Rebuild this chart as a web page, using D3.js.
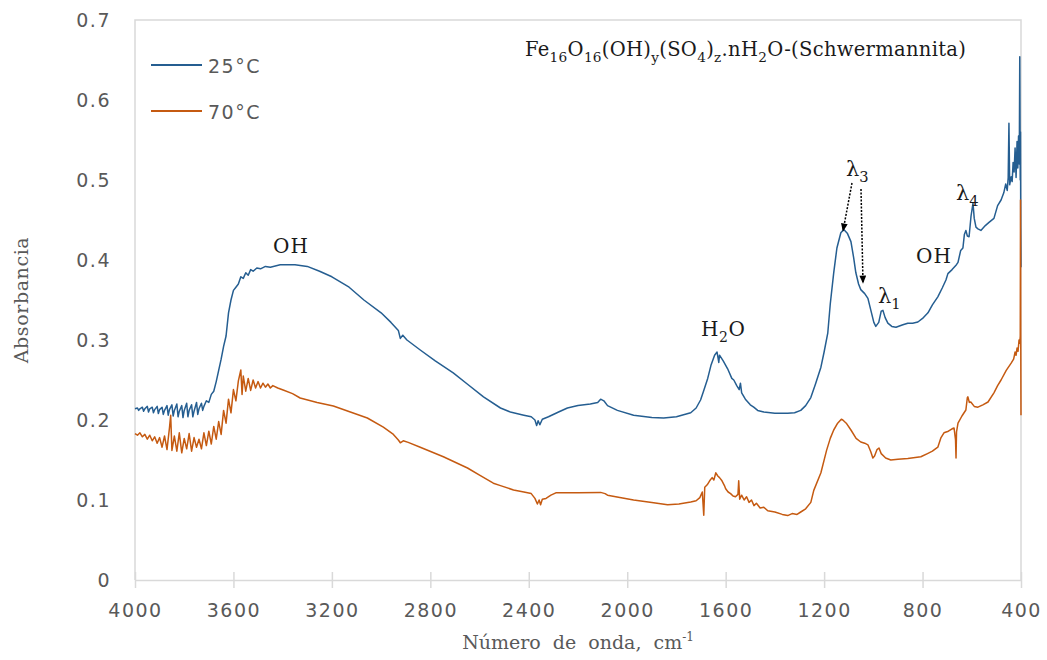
<!DOCTYPE html>
<html>
<head>
<meta charset="utf-8">
<script src="https://cdn.jsdelivr.net/npm/d3@7"></script>
<style>
  body { margin: 0; background: #fff; }
  svg { display: block; }
</style>
</head>
<body>
<svg id="chart" width="1047" height="660"></svg>
<script>
// FTIR spectra of schwermannite at 25 and 70 °C, [wavenumber, absorbance]
const spectrum25 = [
  [4000,.214],[3990,.215],[3985,.212],[3980,.214],[3970,.216],[3965,.211],[3960,.214],[3950,.217],
  [3945,.210],[3940,.214],[3930,.216],[3925,.209],[3920,.213],[3910,.217],[3905,.208],[3900,.213],
  [3890,.216],[3885,.207],[3880,.212],[3870,.218],[3865,.206],[3860,.213],[3850,.219],[3845,.205],
  [3840,.212],[3830,.220],[3825,.204],[3820,.211],[3810,.218],[3805,.203],[3800,.212],[3790,.221],
  [3785,.204],[3780,.212],[3770,.219],[3765,.204],[3760,.211],[3750,.222],[3745,.207],[3740,.214],
  [3730,.221],[3725,.212],[3720,.217],[3710,.224],[3700,.222],[3690,.232],[3680,.236],[3670,.248],
  [3660,.262],[3650,.276],[3640,.292],[3630,.305],[3620,.334],[3610,.350],[3600,.362],[3590,.366],
  [3580,.370],[3570,.379],[3560,.377],[3550,.384],[3540,.381],[3530,.388],[3520,.386],[3505,.390],
  [3490,.389],[3470,.392],[3450,.391],[3410,.394],[3350,.394],[3300,.392],[3250,.386],[3200,.379],
  [3130,.366],[3070,.350],[3000,.334],[2960,.322],[2930,.312],[2922,.302],[2912,.306],[2895,.300],
  [2841,.2875],[2780,.274],[2707,.259],[2650,.245],[2584,.229],[2515,.215],[2475,.210],[2420,.206],
  [2390,.204],[2375,.200],[2368,.193],[2362,.199],[2355,.194],[2345,.201],[2320,.204],[2279,.210],
  [2243,.215],[2200,.218],[2150,.220],[2120,.222],[2108,.226],[2095,.224],[2080,.218],[2040,.212],
  [1974,.206],[1900,.203],[1852,.2025],[1800,.204],[1742,.209],[1720,.215],[1702,.225],[1690,.236],
  [1673,.252],[1660,.268],[1645,.281],[1635,.285],[1628,.272],[1625,.281],[1610,.274],[1592,.264],
  [1575,.252],[1567,.250],[1555,.243],[1545,.238],[1540,.246],[1535,.234],[1520,.226],[1500,.219],
  [1486,.216],[1470,.212],[1445,.210],[1400,.2085],[1348,.2085],[1320,.209],[1295,.212],[1275,.218],
  [1254,.228],[1235,.245],[1213,.266],[1200,.285],[1185,.309],[1175,.345],[1161,.384],[1148,.415],
  [1132,.434],[1120,.438],[1105,.433],[1091,.423],[1080,.403],[1071,.384],[1060,.370],[1051,.363],
  [1035,.358],[1022,.352],[1010,.337],[998,.322],[990,.317],[978,.322],[968,.336],[961,.337],
  [952,.328],[941,.321],[925,.317],[908,.316],[880,.319],[860,.321],[840,.321],[819,.3225],
  [800,.327],[778,.334],[760,.344],[738,.354],[720,.365],[705,.375],[697,.383],[680,.388],
  [665,.393],[656,.397],[645,.412],[636,.415],[630,.432],[624,.437],[618,.430],[611,.429],
  [603,.455],[595,.471],[590,.452],[583,.441],[575,.439],[563,.437],[545,.443],[530,.447],
  [510,.452],[495,.468],[481,.475],[470,.484],[462,.495],[456,.487],[452,.503],[449,.571],
  [446,.494],[440,.504],[436,.498],[432,.522],[428,.510],[424,.540],[420,.503],[416,.548],
  [413,.515],[410,.555],[407,.520],[405,.654],[403,.500],[402,.560],[401,.440],[400,.391]
];

const spectrum70 = [
  [4000,.183],[3990,.181],[3980,.184],[3970,.179],[3960,.182],[3950,.176],[3940,.181],[3930,.174],
  [3920,.179],[3910,.171],[3900,.178],[3890,.166],[3880,.180],[3870,.163],[3860,.190],[3855,.206],
  [3850,.162],[3840,.180],[3830,.161],[3820,.184],[3810,.159],[3800,.177],[3790,.164],[3780,.183],
  [3770,.161],[3760,.178],[3750,.166],[3740,.176],[3730,.164],[3720,.184],[3710,.168],[3700,.186],
  [3690,.170],[3680,.192],[3670,.176],[3660,.198],[3650,.182],[3640,.212],[3630,.196],[3620,.226],
  [3610,.209],[3600,.238],[3590,.224],[3580,.249],[3570,.2625],[3565,.232],[3560,.255],[3550,.236],
  [3540,.252],[3530,.237],[3520,.250],[3510,.240],[3500,.248],[3490,.240],[3480,.246],[3470,.241],
  [3460,.245],[3450,.240],[3440,.243],[3420,.240],[3398,.2375],[3360,.233],[3329,.2275],[3260,.222],
  [3194,.2175],[3125,.210],[3056,.2025],[2991,.191],[2950,.182],[2930,.175],[2922,.1715],[2910,.174],
  [2890,.172],[2841,.166],[2747,.154],[2649,.140],[2600,.131],[2544,.121],[2515,.118],[2462,.1125],
  [2420,.110],[2390,.108],[2375,.102],[2365,.095],[2358,.100],[2352,.094],[2345,.101],[2330,.102],
  [2310,.106],[2290,.109],[2200,.109],[2108,.1095],[2090,.108],[2080,.106],[2030,.103],[1974,.100],
  [1900,.097],[1836,.094],[1790,.095],[1742,.0975],[1720,.099],[1705,.103],[1695,.110],[1689,.081],
  [1685,.116],[1675,.119],[1665,.124],[1655,.128],[1648,.125],[1640,.134],[1632,.130],[1625,.128],
  [1615,.124],[1605,.118],[1600,.114],[1590,.110],[1580,.108],[1570,.105],[1560,.104],[1550,.107],
  [1547,.124],[1543,.101],[1535,.106],[1525,.100],[1515,.104],[1505,.097],[1495,.100],[1485,.093],
  [1475,.096],[1460,.090],[1445,.091],[1429,.0865],[1400,.085],[1370,.082],[1348,.0805],[1330,.083],
  [1310,.082],[1295,.085],[1275,.089],[1254,.097],[1242,.112],[1213,.134],[1190,.162],[1175,.177],
  [1161,.1875],[1145,.196],[1130,.201],[1124,.200],[1110,.196],[1091,.1875],[1070,.177],[1051,.1725],
  [1035,.171],[1022,.169],[1010,.160],[1002,.1525],[995,.155],[985,.163],[977,.165],[968,.158],
  [950,.1525],[929,.150],[900,.151],[860,.152],[807,.154],[780,.158],[760,.161],[738,.166],
  [725,.178],[713,.184],[695,.186],[680,.189],[672,.190],[666,.175],[664,.1525],[662,.185],
  [656,.196],[640,.205],[624,.2125],[618,.228],[616,.229],[610,.222],[604,.2225],[590,.217],
  [575,.216],[555,.219],[534,.2225],[510,.234],[495,.243],[481,.250],[460,.262],[440,.271],
  [430,.276],[428,.279],[424,.285],[420,.281],[416,.290],[412,.286],[408,.300],[405,.296],
  [403,.305],[402,.475],[401,.300],[400,.206]
];

const xTicks = [4000, 3600, 3200, 2800, 2400, 2000, 1600, 1200, 800, 400];
const yTicks = [0, 0.1, 0.2, 0.3, 0.4, 0.5, 0.6, 0.7];
const seriesNames = ['25°C', '70°C'];
const seriesColors = ['#255E91', '#C55A11'];

const svg = d3.select('#chart');
const margin = { left: 135, right: 26, top: 20, bottom: 80 };
const width = 1047 - margin.left - margin.right;
const height = 660 - margin.top - margin.bottom;

const x = d3.scaleLinear().domain([4000, 400]).range([0, width]);
const y = d3.scaleLinear().domain([0, 0.7]).range([height, 0]);

const g = svg.append('g').attr('transform', `translate(${margin.left},${margin.top})`);

const gridColor = '#d9d9d9';
const tickColor = '#595959';
const sansFont = '"DejaVu Sans", sans-serif';
const serifFont = '"DejaVu Serif", serif';

// plot frame (top, left, right)
g.append('path')
  .attr('d', `M0,${height}V0H${width}V${height}`)
  .style('fill', 'none')
  .style('stroke', gridColor)
  .style('stroke-width', 1.5);

// x axis with crossing ticks
const xAxis = g.append('g').attr('transform', `translate(0,${height})`)
  .call(d3.axisBottom(x).tickValues(xTicks).tickFormat(d3.format('d'))
    .tickSize(8).tickPadding(16).tickSizeOuter(0));
xAxis.select('.domain').style('stroke', gridColor).style('stroke-width', 1.5);
xAxis.selectAll('.tick line').attr('y1', -8).style('stroke', gridColor).style('stroke-width', 1.5);
xAxis.selectAll('.tick text')
  .style('font-family', sansFont).style('font-size', '19px')
  .style('letter-spacing', '1.5px').style('fill', tickColor);

// y axis labels only
const yAxis = g.append('g')
  .call(d3.axisLeft(y).tickValues(yTicks).tickSize(0).tickPadding(24)
    .tickFormat(d => d === 0 ? '0' : d3.format('.1f')(d)));
yAxis.select('.domain').remove();
yAxis.selectAll('.tick text')
  .style('font-family', sansFont).style('font-size', '19px')
  .style('letter-spacing', '1.5px').style('fill', tickColor);

// axis titles
svg.append('text')
  .attr('transform', 'translate(28,300) rotate(-90)')
  .style('text-anchor', 'middle')
  .style('font-family', serifFont).style('font-size', '19px').style('fill', tickColor)
  .style('letter-spacing', '0.6px')
  .text('Absorbancia');

const xt = svg.append('text')
  .attr('x', 578).attr('y', 649)
  .style('text-anchor', 'middle')
  .style('font-family', serifFont).style('font-size', '19px').style('fill', tickColor)
  .style('word-spacing', '6px');
xt.append('tspan').text('Número de onda, cm');
xt.append('tspan').attr('dy', -8).style('font-size', '12px').text('-1');

// spectra
const line = d3.line().x(d => x(d[0])).y(d => y(d[1]));
[spectrum25, spectrum70].forEach((s, i) => {
  g.append('path')
    .datum(s)
    .attr('d', line)
    .style('fill', 'none')
    .style('stroke', seriesColors[i])
    .style('stroke-width', 1.5)
    .style('stroke-linejoin', 'round');
});

// legend
seriesNames.forEach((name, i) => {
  const ly = 65 + i * 46;
  svg.append('line')
    .attr('x1', 151).attr('x2', 202).attr('y1', ly).attr('y2', ly)
    .style('stroke', seriesColors[i]).style('stroke-width', 2);
  svg.append('text')
    .attr('x', 208).attr('y', ly + 8)
    .style('font-family', sansFont).style('font-size', '19px')
    .style('letter-spacing', '1.5px').style('fill', tickColor)
    .text(name);
});

// rich text with subscripts: parts = [[text, isSub], ...]
function richText(px, py, parts, size, spacing) {
  const t = svg.append('text')
    .attr('x', px).attr('y', py)
    .style('font-family', serifFont).style('font-size', size + 'px').style('fill', '#1a1a1a')
    .style('letter-spacing', (spacing || 0) + 'px');
  let shifted = false;
  parts.forEach(([txt, sub]) => {
    const ts = t.append('tspan').text(txt);
    if (sub && !shifted) { ts.attr('dy', size * 0.3).style('font-size', (size * 0.7) + 'px'); shifted = true; }
    else if (sub) { ts.style('font-size', (size * 0.7) + 'px'); }
    else if (shifted) { ts.attr('dy', -size * 0.3); shifted = false; }
  });
  return t;
}

richText(525, 56, [['Fe'], ['16', 1], ['O'], ['16', 1], ['(OH)'], ['y', 1], ['(SO'], ['4', 1], [')'], ['z', 1],
  ['.nH'], ['2', 1], ['O-(Schwermannita)']], 19.5, 0.3);
richText(273, 253, [['OH']], 20, 1);
richText(701, 336, [['H'], ['2', 1], ['O']], 20, 0.5);
richText(846, 176, [['λ'], ['3', 1]], 21);
richText(878, 303, [['λ'], ['1', 1]], 21);
richText(916, 263, [['OH']], 20, 1);
richText(956, 200, [['λ'], ['4', 1]], 21);

// dashed arrows to the λ3 bands
const defs = svg.append('defs');
defs.append('marker')
  .attr('id', 'arrowHead')
  .attr('viewBox', '0 0 12 10')
  .attr('refX', 11).attr('refY', 5)
  .attr('markerWidth', 8).attr('markerHeight', 4.5)
  .attr('markerUnits', 'strokeWidth')
  .attr('orient', 'auto')
  .append('path').attr('d', 'M0,0L12,5L0,10z').style('fill', '#000');

[[852, 183, 843, 231], [861, 189, 863, 283]].forEach(a => {
  svg.append('line')
    .attr('x1', a[0]).attr('y1', a[1]).attr('x2', a[2]).attr('y2', a[3])
    .style('stroke', '#000').style('stroke-width', 1.5)
    .style('stroke-dasharray', '2,1.5')
    .attr('marker-end', 'url(#arrowHead)');
});
</script>
</body>
</html>
